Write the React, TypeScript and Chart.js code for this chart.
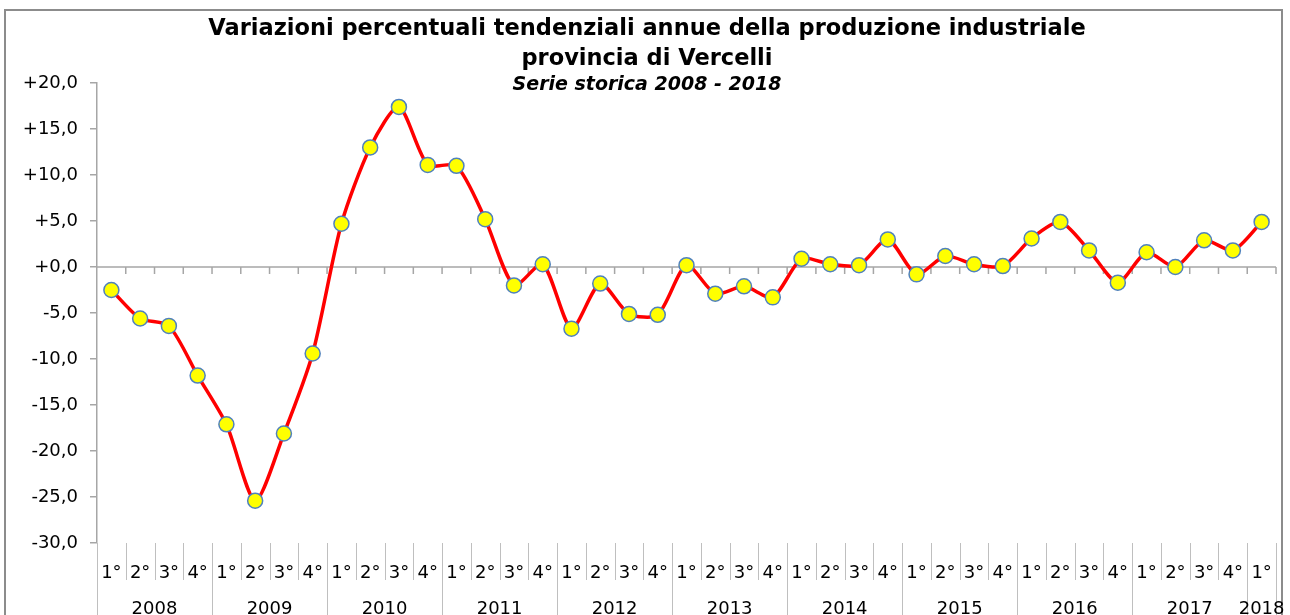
import React, { useEffect, useRef } from "react";
import { Chart, registerables } from "chart.js";

Chart.register(...registerables);

// ---- Data ----
const years = ["2008", "2009", "2010", "2011", "2012", "2013", "2014", "2015", "2016", "2017", "2018"];
const quartersPerYear = [4, 4, 4, 4, 4, 4, 4, 4, 4, 4, 1];
const quarterNames = ["1°", "2°", "3°", "4°"];

const values = [
  -2.5, -5.6, -6.4, -11.8,
  -17.1, -25.4, -18.1, -9.4,
  4.7, 13.0, 17.4, 11.1,
  11.0, 5.2, -2.0, 0.3,
  -6.7, -1.8, -5.1, -5.2,
  0.2, -2.9, -2.1, -3.3,
  0.9, 0.3, 0.2, 3.0,
  -0.8, 1.2, 0.3, 0.1,
  3.1, 4.9, 1.8, -1.7,
  1.6, 0.0, 2.9, 1.8,
  4.9,
];

const titleLines = [
  "Variazioni percentuali tendenziali annue della produzione industriale",
  "provincia di Vercelli",
];
const subtitleText = "Serie storica 2008 - 2018";

const yMin = -30;
const yMax = 20;
const yStep = 5;

// categories built from years/quarters
const quarterLabels: string[] = [];
const yearOfCategory: number[] = [];
years.forEach((y, yi) => {
  for (let q = 0; q < quartersPerYear[yi]; q++) {
    quarterLabels.push(quarterNames[q]);
    yearOfCategory.push(yi);
  }
});
const categories = quarterLabels.map((q, i) => `${years[yearOfCategory[i]]} ${q}`);

const FONT = '"DejaVu Sans", Verdana, sans-serif';

const decorPlugin = {
  id: "decor",
  beforeDraw(chart: any) {
    const ctx = chart.ctx;
    ctx.save();
    ctx.fillStyle = "#ffffff";
    ctx.fillRect(0, 0, chart.width, chart.height);
    ctx.restore();
  },
  beforeDatasetsDraw(chart: any) {
    const ctx = chart.ctx;
    const x = chart.scales.x;
    const y = chart.scales.y;
    const area = chart.chartArea;
    const y0 = y.getPixelForValue(0);
    const half = (x.getPixelForValue(1) - x.getPixelForValue(0)) / 2;
    ctx.save();
    ctx.strokeStyle = "#a6a6a6";
    ctx.lineWidth = 1.5;
    ctx.beginPath();
    ctx.moveTo(area.left, y0);
    ctx.lineTo(area.right, y0);
    for (let i = 0; i < categories.length; i++) {
      const bx = x.getPixelForValue(i) + half;
      ctx.moveTo(bx, y0);
      ctx.lineTo(bx, y0 + 7);
    }
    ctx.stroke();
    ctx.restore();
  },
  afterDraw(chart: any) {
    const ctx = chart.ctx;
    const x = chart.scales.x;
    const area = chart.chartArea;
    const half = (x.getPixelForValue(1) - x.getPixelForValue(0)) / 2;
    const cx = chart.width / 2 + 2;
    ctx.save();

    // outer border
    ctx.strokeStyle = "#8c8c8c";
    ctx.lineWidth = 2;
    ctx.strokeRect(5, 10, 1277, 700);

    // title
    ctx.fillStyle = "#000000";
    ctx.textAlign = "center";
    ctx.textBaseline = "alphabetic";
    ctx.font = `bold 22.5px ${FONT}`;
    ctx.fillText(titleLines[0], cx, 35);
    ctx.fillText(titleLines[1], cx, 65);
    ctx.font = `italic bold 19px ${FONT}`;
    ctx.fillText(subtitleText, cx, 90);

    // bottom category separators
    ctx.strokeStyle = "#bfbfbf";
    ctx.lineWidth = 1;
    ctx.beginPath();
    const n = categories.length;
    for (let i = 0; i <= n; i++) {
      const bx = Math.round(x.getPixelForValue(i) - half) + 0.5;
      const isYearBoundary = i === 0 || i === n || yearOfCategory[i] !== yearOfCategory[i - 1];
      ctx.moveTo(bx, area.bottom);
      ctx.lineTo(bx, isYearBoundary ? chart.height : area.bottom + 37);
    }
    ctx.stroke();

    // quarter labels
    ctx.fillStyle = "#000000";
    ctx.font = `18px ${FONT}`;
    for (let i = 0; i < n; i++) {
      ctx.fillText(quarterLabels[i], x.getPixelForValue(i), area.bottom + 35);
    }
    // year labels
    years.forEach((yr, yi) => {
      const idx = yearOfCategory.map((v, i) => (v === yi ? i : -1)).filter((i) => i >= 0);
      const c = (x.getPixelForValue(idx[0]) + x.getPixelForValue(idx[idx.length - 1])) / 2;
      ctx.fillText(yr, c, area.bottom + 71);
    });
    ctx.restore();
  },
};

export default function App() {
  const ref = useRef<HTMLCanvasElement | null>(null);
  useEffect(() => {
    if (!ref.current) return;
    const chart = new Chart(ref.current, {
      type: "line",
      data: {
        labels: categories,
        datasets: [
          {
            data: values,
            borderColor: "#ff0000",
            borderWidth: 3.5,
            tension: 0.25,
            pointRadius: 7.5,
            pointBackgroundColor: "#ffff00",
            pointBorderColor: "#4f81bd",
            pointBorderWidth: 1.5,
            clip: false as any,
          },
        ],
      },
      options: {
        animation: false,
        responsive: false,
        devicePixelRatio: 1,
        layout: { padding: { top: 83, right: 14, left: 0, bottom: 0 } },
        plugins: {
          legend: { display: false },
          tooltip: { enabled: false },
          title: { display: false },
        },
        scales: {
          x: {
            type: "category",
            offset: true,
            ticks: { display: false },
            grid: { display: false },
            border: { display: false },
            afterFit: (s: any) => {
              s.height = 72;
            },
          },
          y: {
            min: yMin,
            max: yMax,
            ticks: {
              stepSize: yStep,
              color: "#000000",
              font: { family: FONT, size: 18 },
              padding: 12,
              callback: (v: any) => {
                const num = Number(v);
                return (num >= 0 ? "+" : "-") + Math.abs(num).toFixed(1).replace(".", ",");
              },
            },
            grid: {
              drawOnChartArea: false,
              drawTicks: true,
              tickLength: 7,
              color: "#a6a6a6",
              lineWidth: 1.5,
            },
            border: { display: true, color: "#a6a6a6", width: 1.5 },
            afterFit: (s: any) => {
              s.width = 97;
            },
          },
        },
      },
      plugins: [decorPlugin],
    });
    return () => chart.destroy();
  }, []);
  return (
    <div style={{ position: "absolute", left: 0, top: 0, width: 1290, height: 615 }}>
      <canvas ref={ref} width={1290} height={615} style={{ display: "block" }} />
    </div>
  );
}
